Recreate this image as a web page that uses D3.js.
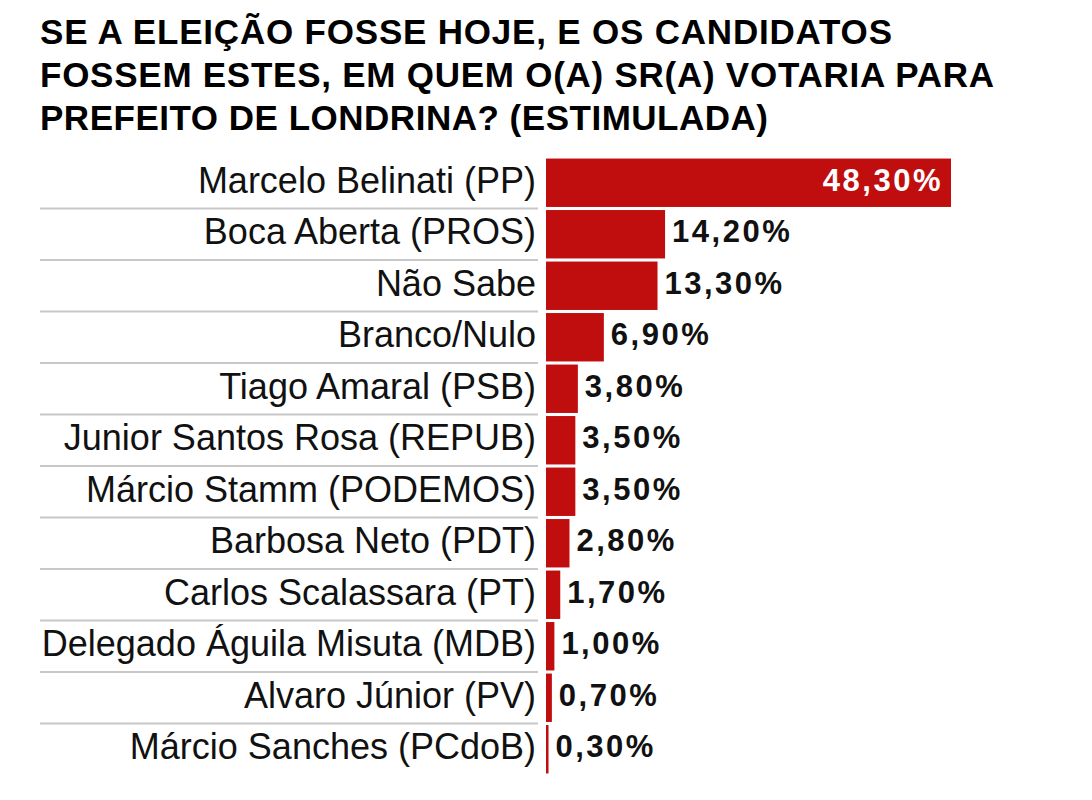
<!DOCTYPE html>
<html>
<head>
<meta charset="utf-8">
<script src="https://cdn.jsdelivr.net/npm/d3@7"></script>
<style>
  body { margin: 0; background: #fff; }
</style>
</head>
<body>
<svg id="Viz" width="1092" height="800"></svg>
<script>
var titleLines = [
  "SE A ELEIÇÃO FOSSE HOJE, E OS CANDIDATOS",
  "FOSSEM ESTES, EM QUEM O(A) SR(A) VOTARIA PARA",
  "PREFEITO DE LONDRINA? (ESTIMULADA)"
];
var titleWidths = [852, 954, 728];

var candidates = [
  "Marcelo Belinati (PP)",
  "Boca Aberta (PROS)",
  "Não Sabe",
  "Branco/Nulo",
  "Tiago Amaral (PSB)",
  "Junior Santos Rosa (REPUB)",
  "Márcio Stamm (PODEMOS)",
  "Barbosa Neto (PDT)",
  "Carlos Scalassara (PT)",
  "Delegado Águila Misuta (MDB)",
  "Alvaro Júnior (PV)",
  "Márcio Sanches (PCdoB)"
];

var votes = [48.3, 14.2, 13.3, 6.9, 3.8, 3.5, 3.5, 2.8, 1.7, 1.0, 0.7, 0.3];

var svg = d3.select("#Viz"),
    width = +svg.attr("width"),
    height = +svg.attr("height");

var data = candidates.map(function(c, i) { return {name: c, value: votes[i]}; });

var x = d3.scaleLinear()
  .domain([0, 48.3])
  .range([546, 951]);

var y = d3.scaleBand()
  .domain(candidates)
  .range([157, 157 + 12 * 51.5])
  .paddingInner(0.06)
  .paddingOuter(0.03);

var fmt = function(v) { return v.toFixed(2).replace(".", ",") + "%"; };

// title
svg.append("g")
  .selectAll("text")
  .data(titleLines)
  .enter()
  .append("text")
  .attr("x", 40)
  .attr("y", function(d, i) { return 44 + i * 43; })
  .attr("font-family", "'Liberation Sans', Arial, Helvetica, sans-serif")
  .attr("font-weight", "bold")
  .attr("font-size", 35)
  .attr("textLength", function(d, i) { return titleWidths[i]; })
  .attr("lengthAdjust", "spacing")
  .attr("fill", "#000")
  .text(function(d) { return d; });

// separators
var step = y.step();
svg.append("g")
  .selectAll("line")
  .data(candidates.slice(0, -1))
  .enter()
  .append("line")
  .attr("x1", 40)
  .attr("x2", 538)
  .attr("y1", function(d) { return y(d) + y.bandwidth() + (step - y.bandwidth()) / 2; })
  .attr("y2", function(d) { return y(d) + y.bandwidth() + (step - y.bandwidth()) / 2; })
  .attr("stroke", "#c8c8c8")
  .attr("stroke-width", 2);

// bars
svg.append("g")
  .selectAll("rect")
  .data(data)
  .enter()
  .append("rect")
  .attr("x", x(0))
  .attr("y", function(d) { return y(d.name); })
  .attr("width", function(d) { return x(d.value) - x(0); })
  .attr("height", y.bandwidth())
  .attr("fill", "#c00d0e");

// category labels
svg.append("g")
  .selectAll("text")
  .data(data)
  .enter()
  .append("text")
  .attr("x", 536)
  .attr("y", function(d) { return y(d.name) + y.bandwidth() / 2 + 10; })
  .attr("text-anchor", "end")
  .attr("font-family", "'Liberation Sans', Arial, Helvetica, sans-serif")
  .attr("font-size", 36)
  .attr("fill", "#111")
  .text(function(d) { return d.name; });

// value labels
svg.append("g")
  .selectAll("text")
  .data(data)
  .enter()
  .append("text")
  .attr("x", function(d, i) { return i === 0 ? x(d.value) - 8 : x(d.value) + 7; })
  .attr("y", function(d) { return y(d.name) + y.bandwidth() / 2 + 8; })
  .attr("text-anchor", function(d, i) { return i === 0 ? "end" : "start"; })
  .attr("font-family", "'Liberation Sans', Arial, Helvetica, sans-serif")
  .attr("font-weight", "bold")
  .attr("font-size", 31)
  .attr("letter-spacing", 2.5)
  .attr("fill", function(d, i) { return i === 0 ? "#fff" : "#111"; })
  .text(function(d) { return fmt(d.value); });
</script>
</body>
</html>
